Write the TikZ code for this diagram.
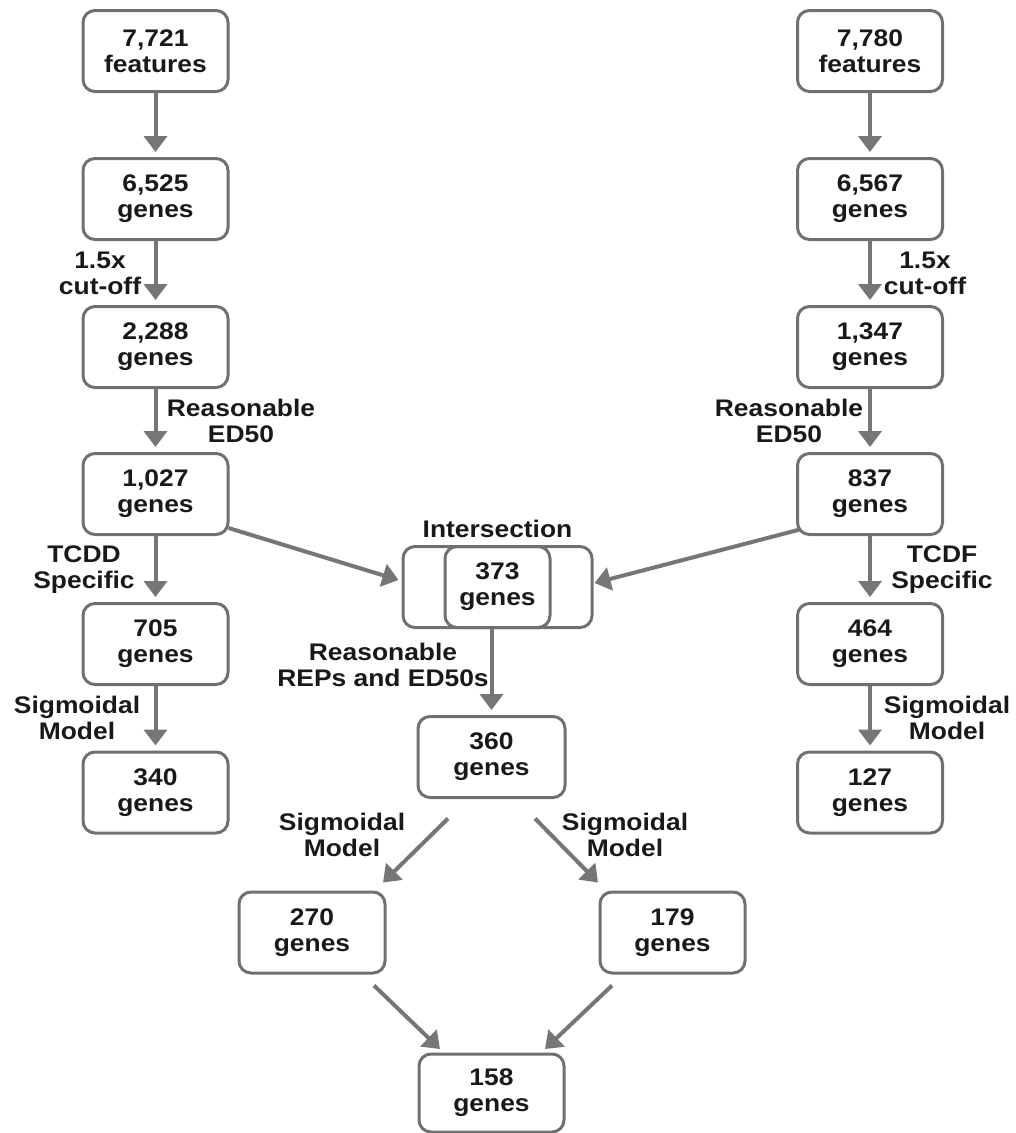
\documentclass[tikz,border=0pt]{standalone}
\usepackage{fontspec}
\setmainfont{Liberation Sans}[FakeStretch=1.1]
\usetikzlibrary{arrows.meta,calc}
\definecolor{boxline}{RGB}{112,112,112}
\definecolor{arrowgray}{RGB}{118,118,118}
\definecolor{ink}{RGB}{25,25,25}
\begin{document}
\begin{tikzpicture}[x=1pt,y=-1pt,
  stagebox/.style={draw=boxline, line width=3pt, rounded corners=12pt,
    minimum width=145pt, minimum height=81pt, align=center, inner sep=0pt,
    text=ink, font=\bfseries\fontsize{24}{26}\selectfont},
  lbl/.style={align=center, inner sep=0pt, text=ink,
    font=\bfseries\fontsize{24}{26}\selectfont},
  flow/.style={draw=arrowgray, line width=4pt,
    -{Triangle[width=23pt,length=16pt]}, shorten >=5pt},
  slant/.style={flow, shorten >=0pt}]

\useasboundingbox (0,0) rectangle (1016,1133);

% left branch
\node[stagebox] (f1) at (155.5,51)    {7,721\\features};
\node[stagebox] (g1) at (155.5,199)   {6,525\\genes};
\node[stagebox] (c1) at (155.5,347)   {2,288\\genes};
\node[stagebox] (r1) at (155.5,494)   {1,027\\genes};
\node[stagebox] (t1) at (155.5,644)   {705\\genes};
\node[stagebox] (s1) at (155.5,792.5) {340\\genes};

% right branch
\node[stagebox] (f2) at (870,51)    {7,780\\features};
\node[stagebox] (g2) at (870,199)   {6,567\\genes};
\node[stagebox] (c2) at (870,347)   {1,347\\genes};
\node[stagebox] (r2) at (870,494)   {837\\genes};
\node[stagebox] (t2) at (870,644)   {464\\genes};
\node[stagebox] (s2) at (870,792.5) {127\\genes};

% intersection and downstream
\node[stagebox, minimum width=189pt] (inter) at (497.5,587) {};
\node[stagebox, minimum width=105pt] (common) at (497.5,587) {373\\genes};
\node[lbl] (interlbl) at (497.5,529) {Intersection};
\node[stagebox, minimum width=147pt] (n360) at (491.5,757)  {360\\genes};
\node[stagebox, minimum width=146pt] (n270) at (312,932.5)  {270\\genes};
\node[stagebox] (n179) at (672.5,932.5) {179\\genes};
\node[stagebox, minimum height=78pt] (n158) at (491.5,1093) {158\\genes};

% filter labels
\node[lbl] (cutL)  at (100,273)   {1.5x\\cut-off};
\node[lbl] (cutR)  at (925,273)   {1.5x\\cut-off};
\node[lbl] (edL)   at (241,421)   {Reasonable\\ED50};
\node[lbl] (edR)   at (789,421)   {Reasonable\\ED50};
\node[lbl] (tcdd)  at (84,570)    {TCDD\\Specific};
\node[lbl] (tcdf)  at (942,570)   {TCDF\\Specific};
\node[lbl] (sigL)  at (77,717.5)  {Sigmoidal\\Model};
\node[lbl] (sigR)  at (947,717.5) {Sigmoidal\\Model};
\node[lbl] (reps)  at (383,665)   {Reasonable\\REPs and ED50s};
\node[lbl] (sigBL) at (342,835)   {Sigmoidal\\Model};
\node[lbl] (sigBR) at (625,835)   {Sigmoidal\\Model};

% vertical flows
\draw[flow] (f1) -- (g1);
\draw[flow] (g1) -- (c1);
\draw[flow] (c1) -- (r1);
\draw[flow] (r1) -- (t1);
\draw[flow] (t1) -- (s1);
\draw[flow] (f2) -- (g2);
\draw[flow] (g2) -- (c2);
\draw[flow] (c2) -- (r2);
\draw[flow] (r2) -- (t2);
\draw[flow] (t2) -- (s2);
\draw[flow] (common.south -| n360.north) -- (n360.north);

% slanted flows
\draw[slant] ([shift={(-1,-8)}]r1.south east) -- ([shift={(-3,-7)}]inter.west);
\draw[slant] ([shift={(4,-6.5)}]r2.south west) -- ([shift={(1,-4)}]inter.east);
\draw[slant] ([shift={(-43.5,19.5)}]n360.south) -- ([shift={(71,-8)}]n270.north);
\draw[slant] ([shift={(43.5,19.5)}]n360.south) -- ([shift={(-74.5,-8)}]n179.north);
\draw[slant] ([shift={(62,11)}]n270.south) -- ([shift={(-51.5,-3.5)}]n158.north);
\draw[slant] ([shift={(-60.5,11)}]n179.south) -- ([shift={(53.5,-3.5)}]n158.north);
\end{tikzpicture}
\end{document}
